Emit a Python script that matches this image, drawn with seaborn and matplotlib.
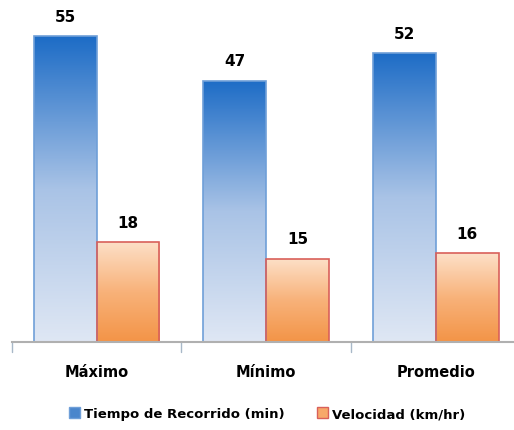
import numpy as np
import pandas as pd
import matplotlib
matplotlib.use('Agg')
import matplotlib.pyplot as plt
import seaborn as sns
from matplotlib.colors import LinearSegmentedColormap
from matplotlib.patches import Patch

# data
categorias = ['Máximo', 'Mínimo', 'Promedio']
series = ['Tiempo de Recorrido (min)', 'Velocidad (km/hr)']
tiempo = [55, 47, 52]
velocidad = [18, 15, 16]

df = pd.DataFrame({
    'cat': categorias * 2,
    'serie': [series[0]] * 3 + [series[1]] * 3,
    'valor': tiempo + velocidad,
})

sns.set_style('white')
plt.rcParams['font.family'] = ['DejaVu Sans']
plt.rcParams['text.color'] = 'black'
plt.rcParams['xtick.color'] = 'black'

fig = plt.figure(figsize=(5.14, 4.31), dpi=100)
ax = fig.add_axes([0.023, 0.204, 0.99, 0.791])

sns.barplot(data=df, x='cat', y='valor', hue='serie', order=categorias,
            hue_order=series, palette=['#4a86cc', '#f7a86a'], width=0.74,
            ax=ax, legend=False)

# gradient fills
cmap_azul = LinearSegmentedColormap.from_list('az', ['#dfe7f4', '#a9c3e6', '#1d6cc6'])
cmap_nar = LinearSegmentedColormap.from_list('na', ['#f39447', '#f8b27a', '#fde0c8'])
grad = np.linspace(0, 1, 256).reshape(-1, 1)
n = len(categorias)
for i, bar in enumerate(ax.patches[:2 * n]):
    es_azul = i < n
    x0, y0 = bar.get_x(), bar.get_y()
    w, h = bar.get_width(), bar.get_height()
    bar.set_facecolor('none')
    bar.set_edgecolor('#6f9fd8' if es_azul else '#d9605a')
    bar.set_linewidth(1.2)
    im = ax.imshow(grad, extent=[x0, x0 + w, y0, y0 + h], origin='lower',
                   aspect='auto', cmap=cmap_azul if es_azul else cmap_nar,
                   zorder=bar.get_zorder() - 0.1)
    im.set_clip_path(bar)
    ax.text(x0 + w / 2, h + 2.2, f'{h:.0f}', ha='center', va='bottom',
            fontsize=11, fontweight='bold', color='black')

ax.set_xlim(-0.5, 2.5)
ax.set_ylim(0, 61.3)
ax.set_xlabel('')
ax.set_ylabel('')
ax.set_yticks([])
for s in ['top', 'right', 'left']:
    ax.spines[s].set_visible(False)
ax.spines['bottom'].set_color('#b0b0b0')
ax.spines['bottom'].set_linewidth(1.5)
ax.set_xticks([0, 1, 2])
ax.set_xticklabels(categorias, fontsize=10.5, fontweight='bold', color='black')
ax.tick_params(axis='x', length=0, pad=16)
for xb in [-0.5, 0.5, 1.5]:
    ax.plot([xb, xb], [0, -1.8], color='#a8b8c8', lw=1, clip_on=False)

handles = [Patch(facecolor='#4a86cc', edgecolor='#6f9fd8', label=series[0]),
           Patch(facecolor='#f7a86a', edgecolor='#d9605a', label=series[1])]
leg = fig.legend(handles=handles, loc='center', bbox_to_anchor=(0.52, 0.038), ncol=2,
                 frameon=False, handlelength=0.8, handleheight=0.8, columnspacing=2.5,
                 handletextpad=0.3, prop={'weight': 'bold', 'size': 9.5})
for t in leg.get_texts():
    t.set_color('black')

fig.savefig('out.png', dpi=100)
